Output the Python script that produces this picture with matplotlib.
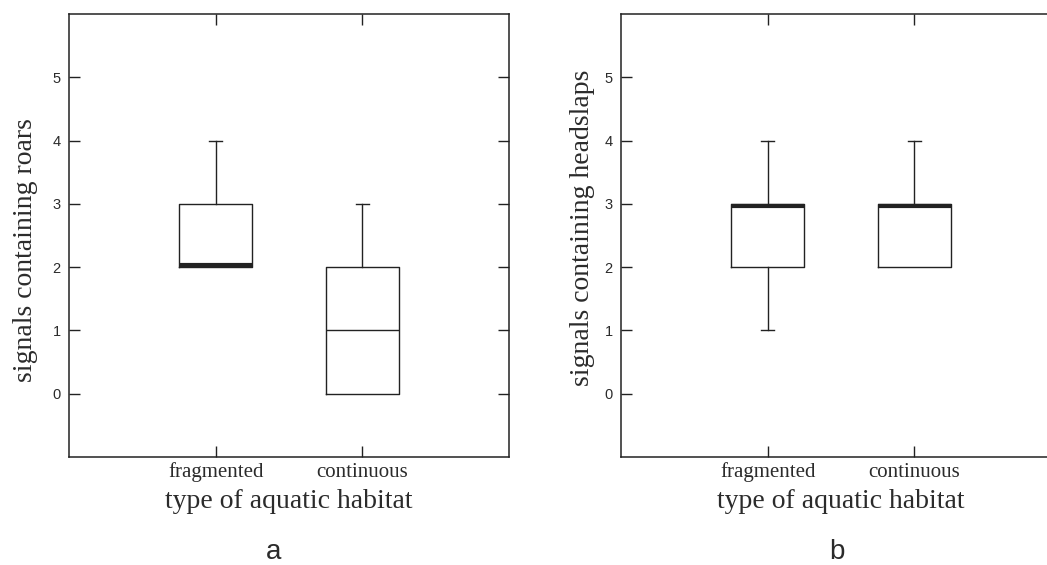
import matplotlib
matplotlib.use("Agg")
import matplotlib.pyplot as plt

# Category labels
categories = ["fragmented", "continuous"]

# Panel a: signals containing roars (five-number summaries per habitat)
roars_low = [2, 0]
roars_q1 = [2, 0]
roars_med = [2, 1]
roars_q3 = [3, 2]
roars_high = [4, 3]

# Panel b: signals containing headslaps
slaps_low = [1, 2]
slaps_q1 = [2, 2]
slaps_med = [3, 3]
slaps_q3 = [3, 3]
slaps_high = [4, 4]

y_ticks = [0, 1, 2, 3, 4, 5]

LINE = "#222222"
TEXT = "#2b2b2b"
SERIF = ["Liberation Serif", "DejaVu Serif"]
SANS = ["Liberation Sans", "DejaVu Sans"]

fig = plt.figure(figsize=(10.47, 5.65), dpi=100)
fig.patch.set_facecolor("white")

ax_w = 440 / 1047
ax_h = (457 - 14) / 565
ax_b = (565 - 457) / 565
axes = [fig.add_axes([69 / 1047, ax_b, ax_w, ax_h]),
        fig.add_axes([621 / 1047, ax_b, ax_w, ax_h])]

panels = [
    (roars_low, roars_q1, roars_med, roars_q3, roars_high,
     "signals containing roars", "a", 0.464, (-0.07, 0.468)),
    (slaps_low, slaps_q1, slaps_med, slaps_q3, slaps_high,
     "signals containing headslaps", "b", 0.49, (-0.059, 0.518)),
]

for ax, (lo, q1, med, q3, hi, ylabel, tag, tag_x, ylab_xy) in zip(axes, panels):
    stats = []
    for i, name in enumerate(categories):
        stats.append(dict(label=name, whislo=lo[i], q1=q1[i], med=med[i],
                          q3=q3[i], whishi=hi[i], fliers=[]))
    art = ax.bxp(stats, positions=[1, 2], widths=0.5, capwidths=0.09,
                 showfliers=False, patch_artist=False,
                 boxprops=dict(color=LINE, linewidth=1.0),
                 whiskerprops=dict(color=LINE, linewidth=1.0),
                 capprops=dict(color=LINE, linewidth=1.0),
                 medianprops=dict(color=LINE, linewidth=1.0))
    # no caps on whiskers of zero length
    for i in range(len(categories)):
        if lo[i] == q1[i]:
            art["caps"][2 * i].set_visible(False)
        if hi[i] == q3[i]:
            art["caps"][2 * i + 1].set_visible(False)
    # medians lying on a box edge are drawn heavier, nudged inside the box
    for i, m in enumerate(art["medians"]):
        if med[i] in (q1[i], q3[i]):
            m.set_linewidth(3.0)
            off = 0.04 if med[i] == q1[i] else -0.03
            m.set_ydata([med[i] + off, med[i] + off])

    ax.set_xlim(0, 3)
    ax.set_ylim(-1, 6)
    ax.set_yticks(y_ticks)
    ax.set_yticklabels([str(t) for t in y_ticks], family=SANS, fontsize=10.5,
                       color=TEXT)
    ax.set_xticks([1, 2])
    ax.set_xticklabels(categories, family=SERIF, fontsize=15, color=TEXT)
    ax.tick_params(axis="both", direction="in", length=8, width=1.0,
                   color=LINE, top=True, right=True)
    ax.tick_params(axis="y", pad=6)
    ax.tick_params(axis="x", pad=4)
    for s in ax.spines.values():
        s.set_color(LINE)
        s.set_linewidth(1.1)
    ax.set_ylabel(ylabel, family=SERIF, fontsize=20, color=TEXT)
    ax.yaxis.set_label_coords(*ylab_xy)
    ax.set_xlabel("type of aquatic habitat", family=SERIF, fontsize=20,
                  color=TEXT, labelpad=5)
    ax.text(tag_x, -0.215, tag, transform=ax.transAxes, ha="center",
            va="center", family=SANS, fontsize=20, color=TEXT)

fig.savefig("out.png", dpi=100, facecolor="white")
